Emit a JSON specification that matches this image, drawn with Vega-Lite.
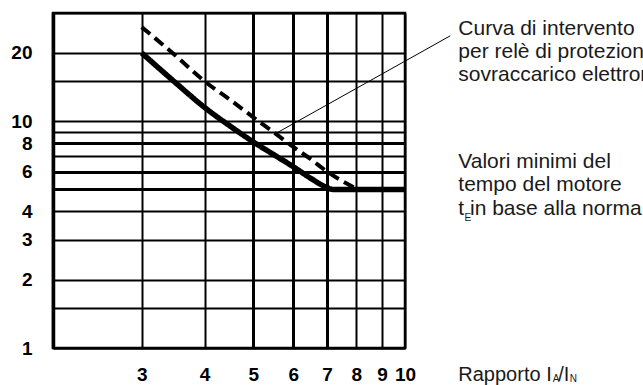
{
  "$schema": "https://vega.github.io/schema/vega-lite/v6.json",
  "autosize": {"type": "none"},
  "width": 352,
  "height": 335,
  "padding": {"left": 53, "top": 13, "right": 238, "bottom": 37},
  "background": "white",
  "config": {
    "view": {"stroke": "black", "strokeWidth": 2.5},
    "font": "Liberation Sans"
  },
  "datasets": {
    "curves": [
      {"curve": "relè", "ratio": 3, "t": 26},
      {"curve": "relè", "ratio": 3.5, "t": 19.5},
      {"curve": "relè", "ratio": 4, "t": 15},
      {"curve": "relè", "ratio": 4.5, "t": 12.4},
      {"curve": "relè", "ratio": 5, "t": 10.4},
      {"curve": "relè", "ratio": 5.5, "t": 8.9},
      {"curve": "relè", "ratio": 6, "t": 7.7},
      {"curve": "relè", "ratio": 6.5, "t": 6.8},
      {"curve": "relè", "ratio": 7, "t": 6.0},
      {"curve": "relè", "ratio": 7.5, "t": 5.45},
      {"curve": "relè", "ratio": 8, "t": 5.05},
      {"curve": "motore", "ratio": 3, "t": 20},
      {"curve": "motore", "ratio": 3.5, "t": 14.8},
      {"curve": "motore", "ratio": 4, "t": 11.5},
      {"curve": "motore", "ratio": 4.5, "t": 9.5},
      {"curve": "motore", "ratio": 5, "t": 8.1},
      {"curve": "motore", "ratio": 5.5, "t": 7.1},
      {"curve": "motore", "ratio": 6, "t": 6.3},
      {"curve": "motore", "ratio": 6.5, "t": 5.6},
      {"curve": "motore", "ratio": 7, "t": 5.1},
      {"curve": "motore", "ratio": 7.2, "t": 5},
      {"curve": "motore", "ratio": 10, "t": 5}
    ]
  },
  "layer": [
    {
      "data": {"name": "curves"},
      "mark": {"type": "line", "interpolate": "monotone", "strokeCap": "butt", "color": "black"},
      "encoding": {
        "x": {
          "field": "ratio", "type": "quantitative",
          "scale": {"type": "log", "domain": [2, 10], "nice": false},
          "axis": {
            "title": null,
            "values": [2, 3, 4, 5, 6, 7, 8, 9, 10],
            "grid": true,
            "gridColor": "black",
            "gridOpacity": 1,
            "gridWidth": {"condition": {"test": "datum.value >= 5 && datum.value <= 7", "value": 3}, "value": 2},
            "domain": true,
            "domainColor": "black",
            "domainWidth": 2,
            "ticks": false,
            "tickSize": 0,
            "labelExpr": "datum.value >= 3 ? '' + datum.value : ''",
            "labelFont": "Liberation Sans",
            "labelFontWeight": "bold",
            "labelFontSize": 19,
            "labelColor": "black",
            "labelPadding": 17,
            "labelFlush": false,
            "labelOverlap": false
          }
        },
        "y": {
          "field": "t", "type": "quantitative",
          "scale": {"type": "log", "domain": [1, 30], "nice": false},
          "axis": {
            "title": null,
            "values": [1, 1.5, 2, 3, 4, 5, 6, 7, 8, 9, 10, 15, 20, 30],
            "grid": true,
            "gridColor": "black",
            "gridOpacity": 1,
            "gridWidth": {"condition": {"test": "datum.value == 5 || datum.value == 6 || datum.value == 8", "value": 3}, "value": 2},
            "domain": true,
            "domainColor": "black",
            "domainWidth": 3.5,
            "ticks": false,
            "tickSize": 0,
            "labelExpr": "indexof([1, 2, 3, 4, 6, 8, 10, 20], datum.value) >= 0 ? '' + datum.value : ''",
            "labelFont": "Liberation Sans",
            "labelFontWeight": "bold",
            "labelFontSize": 19,
            "labelColor": "black",
            "labelPadding": 21,
            "labelFlush": false,
            "labelOverlap": false
          }
        },
        "detail": {"field": "curve"},
        "strokeDash": {
          "field": "curve", "type": "nominal",
          "scale": {"domain": ["relè", "motore"], "range": [[11, 6], [1, 0]]},
          "legend": null
        },
        "strokeWidth": {
          "field": "curve", "type": "nominal",
          "scale": {"domain": ["relè", "motore"], "range": [4, 5.5]},
          "legend": null
        }
      }
    },
    {
      "data": {"values": [{"x1": 5.55, "y1": 8.85, "x2": 12.3, "y2": 23.8}]},
      "mark": {"type": "rule", "color": "black", "strokeWidth": 1, "clip": false},
      "encoding": {
        "x": {"field": "x1", "type": "quantitative"},
        "y": {"field": "y1", "type": "quantitative"},
        "x2": {"field": "x2"},
        "y2": {"field": "y2"}
      }
    },
    {
      "data": {"values": [
        {"tx": 12.76, "ty": 25.53, "label": "Curva di intervento"},
        {"tx": 12.76, "ty": 20.2, "label": "per relè di protezione"},
        {"tx": 12.76, "ty": 15.98, "label": "sovraccarico elettronico"},
        {"tx": 12.76, "ty": 6.59, "label": "Valori minimi del"},
        {"tx": 12.76, "ty": 5.21, "label": "tempo del motore"},
        {"tx": 12.76, "ty": 4.12, "label": "t in base alla norma"}
      ]},
      "mark": {"type": "text", "align": "left", "baseline": "middle", "fontSize": 21, "font": "Liberation Sans", "color": "#1a1a1a", "clip": false},
      "encoding": {
        "x": {"field": "tx", "type": "quantitative"},
        "y": {"field": "ty", "type": "quantitative"},
        "text": {"field": "label"}
      }
    },
    {
      "data": {"values": [
        {"tx": 12.76, "ty": 0.76, "label": "Rapporto I"},
        {"tx": 20.15, "ty": 0.76, "label": "/I"}
      ]},
      "mark": {"type": "text", "align": "left", "baseline": "middle", "fontSize": 20, "font": "Liberation Sans", "color": "#1a1a1a", "clip": false},
      "encoding": {
        "x": {"field": "tx", "type": "quantitative"},
        "y": {"field": "ty", "type": "quantitative"},
        "text": {"field": "label"}
      }
    },
    {
      "data": {"values": [
        {"tx": 13.12, "ty": 3.76, "label": "E"},
        {"tx": 19.66, "ty": 0.729, "label": "A"},
        {"tx": 21.25, "ty": 0.729, "label": "N"}
      ]},
      "mark": {"type": "text", "align": "left", "baseline": "middle", "fontSize": 10, "font": "Liberation Sans", "color": "#1a1a1a", "clip": false},
      "encoding": {
        "x": {"field": "tx", "type": "quantitative"},
        "y": {"field": "ty", "type": "quantitative"},
        "text": {"field": "label"}
      }
    }
  ]
}
